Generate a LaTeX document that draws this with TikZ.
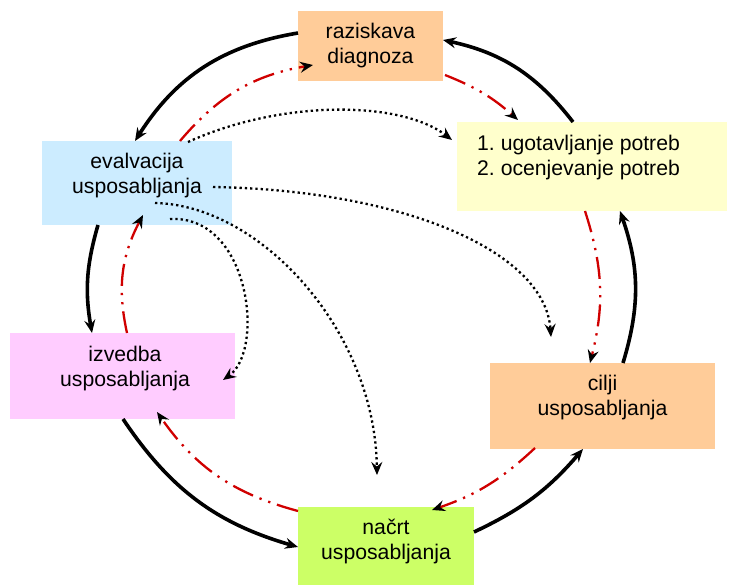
\documentclass[tikz,border=0pt]{standalone}
\usepackage{fontspec}
\setmainfont{Liberation Sans}
\usetikzlibrary{arrows.meta,calc}

\definecolor{peach}{HTML}{FFCC99}
\definecolor{paleyellow}{HTML}{FFFFCC}
\definecolor{paleblue}{HTML}{CCECFF}
\definecolor{palepink}{HTML}{FFCCFF}
\definecolor{lime}{HTML}{CCFF66}
\definecolor{feedred}{RGB}{208,0,0}

\tikzset{
  box/.style={rectangle, draw=none, inner sep=0pt, outer sep=0pt},
  lbl/.style={inner sep=0pt, align=center, font=\fontsize{21.2}{25}\selectfont},
  tip/.style={-{Stealth[length=13pt,width=11pt,inset=4.5pt,color=black]}},
  cycle/.style={tip, line width=3.6pt, black},
  feedback/.style={tip, line width=2.3pt, feedred,
    dash pattern=on 22pt off 7pt on 2.3pt off 7pt on 2.3pt off 7pt},
  influence/.style={tip, line width=2.3pt, black, dash pattern=on 2.3pt off 3pt}
}

\begin{document}
\frenchspacing
\begin{tikzpicture}[x=1pt,y=-1pt]
\useasboundingbox (0,0) rectangle (737,585);

% stage boxes
\node[box, fill=peach, minimum width=145pt, minimum height=70pt] (razi) at (370.5,46) {};
\node[box, fill=paleyellow, minimum width=270pt, minimum height=89pt] (yel) at (592,166.5) {};
\node[box, fill=peach, minimum width=225pt, minimum height=86pt] (cil) at (602.5,406) {};
\node[box, fill=lime, minimum width=176pt, minimum height=80pt] (nac) at (386,547) {};
\node[box, fill=palepink, minimum width=225pt, minimum height=86pt] (izv) at (122.5,376) {};
\node[box, fill=paleblue, minimum width=190pt, minimum height=84pt] (eva) at (137,183) {};

% stage labels
\node[lbl] (razi-t) at (370.5,46) {raziskava\\diagnoza};
\node[lbl, align=left, anchor=west] (yel-t) at (477,157.5) {1. ugotavljanje potreb\\2. ocenjevanje potreb};
\node[lbl] (cil-t) at (602.5,397.5) {cilji\\usposabljanja};
\node[lbl] (nac-t) at (386,541) {načrt\\usposabljanja};
\node[lbl] (izv-t) at (125,368.5) {izvedba\\usposabljanja};
\node[lbl] (eva-t) at (137,175.5) {evalvacija\\usposabljanja};

% outer cycle (solid black)
\draw[cycle] ($(razi.north west)+(0,22)$) to[bend right=24] ($(eva.north west)+(93,0)$);
\draw[cycle] ($(eva.south west)+(56,0)$) to[bend right=13] ($(izv.north west)+(82,0)$);
\draw[cycle] ($(izv.south west)+(113,0)$) to[bend right=20] ($(nac.north west)+(0,40)$);
\draw[cycle] ($(nac.north east)+(0,25)$) to[bend right=12] ($(cil.south west)+(93,0)$);
\draw[cycle] ($(cil.north west)+(133,0)$) to[bend right=18] ($(yel.south west)+(163,0)$);
\draw[cycle] ($(yel.north west)+(116,0)$) to[bend right=20] ($(razi.north east)+(0,29)$);

% inner cycle (red dash-dot-dot)
\draw[feedback] ($(eva.north west)+(138,0)$) to[bend left=20] ($(razi.north west)+(15,54)$);
\draw[feedback] ($(razi.north east)+(2,64)$) to[bend left=10] ($(yel.north west)+(61,-2)$);
\draw[feedback] ($(yel.south west)+(128,0)$) to[bend left=16] ($(cil.north west)+(100,0)$);
\draw[feedback] ($(cil.south west)+(45,-1)$) to[bend left=12] ($(nac.north west)+(134,3)$);
\draw[feedback] ($(nac.north west)+(0,4)$) to[bend left=20] ($(izv.south west)+(147,-7)$);
\draw[feedback] ($(izv.north west)+(117,0)$) to[bend left=20] ($(eva.south west)+(101,-10)$);

% evaluation feeding back into the other stages (dotted)
\draw[influence] ($(eva.north west)+(146,1)$) .. controls (280,100) and (400,100) .. ($(yel.north west)+(-5,18)$);
\draw[influence] ($(eva.north west)+(171,46)$) .. controls (400,190) and (545,250) .. ($(cil.north west)+(61,-26)$);
\draw[influence] ($(eva.north west)+(113,62)$) .. controls (260,205) and (375,330) .. ($(nac.north west)+(79,-32)$);
\draw[influence] ($(eva.north west)+(128,78)$) .. controls (250,215) and (265,350) .. ($(izv.north east)+(-12,47)$);
\end{tikzpicture}
\end{document}
